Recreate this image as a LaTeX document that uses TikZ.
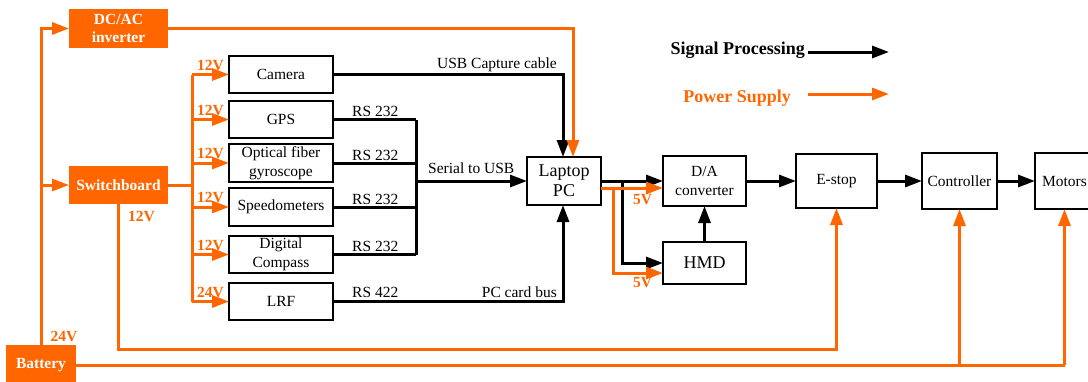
\documentclass[tikz,border=0pt]{standalone}
\usepackage{fontspec}
\setmainfont{Liberation Serif}
\usetikzlibrary{arrows.meta,calc}
\definecolor{pw}{RGB}{255,102,0}
\begin{document}
\begin{tikzpicture}[x=1pt,y=-1pt,
 box/.style={draw,line width=1.6pt,inner sep=0pt,outer sep=0pt,align=center,font=\fontsize{15.5}{18.5}\selectfont},
 bigbox/.style={box,font=\fontsize{18}{20}\selectfont},
 pbox/.style={fill=pw,text=white,inner sep=0pt,outer sep=0pt,align=center,font=\fontsize{15.5}{18.5}\selectfont\bfseries},
 sig/.style={line width=3pt,-{Triangle[length=17pt,width=12pt]}},
 sigl/.style={line width=3pt},
 pow/.style={draw=pw,line width=3pt,-{Triangle[length=17pt,width=12pt]},color=pw},
 powl/.style={draw=pw,line width=3pt},
 lab/.style={font=\fontsize{15.5}{18}\selectfont,inner sep=0pt},
 vlab/.style={font=\fontsize{15.5}{18}\selectfont\bfseries,text=pw,inner sep=0pt},
 leg/.style={font=\fontsize{18}{20}\selectfont\bfseries,inner sep=0pt},
]
\useasboundingbox (0,0) rectangle (1088,381);

% power boxes
\node[pbox,minimum width=99pt,minimum height=39pt] (inv) at (118.5,28.5) {DC/AC\\inverter};
\node[pbox,minimum width=99pt,minimum height=38pt] (sw) at (118.5,185) {Switchboard};
\node[pbox,minimum width=70pt,minimum height=40pt] (bat) at (41,365) {Battery};

% sensor boxes
\node[box,minimum width=104pt,minimum height=37pt] (cam) at (281,74.5) {Camera};
\node[box,minimum width=104pt,minimum height=37pt] (gps) at (281,119.5) {GPS};
\node[box,minimum width=104pt,minimum height=38pt] (opt) at (281,163) {Optical fiber\\gyroscope};
\node[box,minimum width=104pt,minimum height=38pt] (spd) at (281,207) {Speedometers};
\node[box,minimum width=104pt,minimum height=37pt] (cmp) at (281,254.5) {Digital\\Compass};
\node[box,minimum width=104pt,minimum height=37pt] (lrf) at (281,301.5) {LRF};

% processing chain
\node[bigbox,minimum width=74pt,minimum height=48pt] (lap) at (564,181) {Laptop\\PC};
\node[box,minimum width=83pt,minimum height=50pt] (da) at (704.5,181) {D/A\\converter};
\node[bigbox,minimum width=83pt,minimum height=42pt] (hmd) at (704.5,263) {HMD};
\node[box,minimum width=81pt,minimum height=54pt] (es) at (836.5,181) {E-stop};
\node[box,minimum width=75pt,minimum height=56pt] (ctl) at (959.5,181) {Controller};
\node[box,minimum width=59pt,minimum height=56pt] (mot) at (1064.5,181) {Motors};

% ---------- signal connectors ----------
\draw[sig] (cam.east) -| ([xshift=-1pt]lap.north);
\node[lab,anchor=base east] (usb) at (557,68) {USB Capture cable};

\coordinate (j) at (416,0);
\draw[sigl] (gps.east) -- (gps.east -| j);
\draw[sigl] (opt.east) -- (opt.east -| j);
\draw[sigl] (spd.east) -- (spd.east -| j);
\draw[sigl] (cmp.east) -- (cmp.east -| j);
\draw[sigl] (gps.east -| j) -- (cmp.east -| j);
\draw[sig] (j |- lap.west) -- (lap.west);
\node[lab,anchor=base west] (r1) at (352,116) {RS 232};
\node[lab,anchor=base west] (r2) at (352,160) {RS 232};
\node[lab,anchor=base west] (r3) at (352,204) {RS 232};
\node[lab,anchor=base west] (r4) at (352,251) {RS 232};
\node[lab,anchor=base west] (s2u) at (428,173) {Serial to USB};

\draw[sig] (lrf.east) -| ([xshift=-1pt]lap.south);
\node[lab,anchor=base west] (r5) at (352,297) {RS 422};
\node[lab,anchor=base east] (pcb) at (557,297) {PC card bus};

\draw[sig] (lap.east) -- (da.west);
\coordinate (k) at (622,0);
\draw[sig] (k |- lap.east) |- (hmd.west);
\draw[sig] (hmd.north) -- (da.south);
\draw[sig] (da.east) -- (es.west);
\draw[sig] (es.east) -- (ctl.west);
\draw[sig] (ctl.east) -- (mot.west);

% ---------- power connectors ----------
\draw[pow] (bat.north) |- (inv.west);
\draw[pow] (bat.north) |- (sw.west);
\node[vlab] (v24a) at (64,336) {24V};
\draw[pow] (inv.east) -| ([xshift=9pt]lap.north);

\coordinate (b) at (192,0);
\draw[powl] (sw.east) -- (sw.east -| b);
\draw[powl] (b |- cam.west) -- (b |- lrf.west);
\draw[pow] (b |- cam.west) -- (cam.west);
\draw[pow] (b |- gps.west) -- (gps.west);
\draw[pow] (b |- opt.west) -- (opt.west);
\draw[pow] (b |- spd.west) -- (spd.west);
\draw[pow] (b |- cmp.west) -- (cmp.west);
\draw[pow] (b |- lrf.west) -- (lrf.west);
\node[vlab] (v1) at ($(b |- cam.west)+(18.5,-9.5)$) {12V};
\node[vlab] (v2) at ($(b |- gps.west)+(18.5,-9.5)$) {12V};
\node[vlab] (v3) at ($(b |- opt.west)+(18.5,-9.5)$) {12V};
\node[vlab] (v4) at ($(b |- spd.west)+(18.5,-9.5)$) {12V};
\node[vlab] (v5) at ($(b |- cmp.west)+(18.5,-9.5)$) {12V};
\node[vlab] (v6) at ($(b |- lrf.west)+(18.5,-9.5)$) {24V};

\coordinate (low1) at (0,349);
\draw[pow] (sw.south) |- (low1 -| es.south) -- (es.south);
\node[vlab] (v12s) at (141.5,216) {12V};

\coordinate (low2) at (0,365);
\draw[powl] (bat.east) -- (low2 -| mot.south);
\draw[pow] (low2 -| mot.south) -- (mot.south);
\draw[pow] (low2 -| ctl.south) -- (ctl.south);

\coordinate (po) at ([yshift=-7pt]lap.east);
\draw[pow] (po) -- (po -| da.west);
\coordinate (ko) at (613,0);
\draw[pow] (ko |- po) |- ([yshift=-10pt]hmd.west);
\node[vlab] (v5a) at (642.5,200) {5V};
\node[vlab] (v5b) at (642.5,283) {5V};

% ---------- legend ----------
\node[leg,anchor=base east] (lsig) at (805,54) {Signal Processing};
\coordinate (ls1) at (808,52);
\coordinate (ls2) at (889,52);
\draw[sig] (ls1) -- (ls2);
\node[leg,anchor=base east,text=pw] (lpow) at (791,102) {Power Supply};
\coordinate (lp1) at (808,94);
\coordinate (lp2) at (889,94);
\draw[pow] (lp1) -- (lp2);
\end{tikzpicture}
\end{document}
